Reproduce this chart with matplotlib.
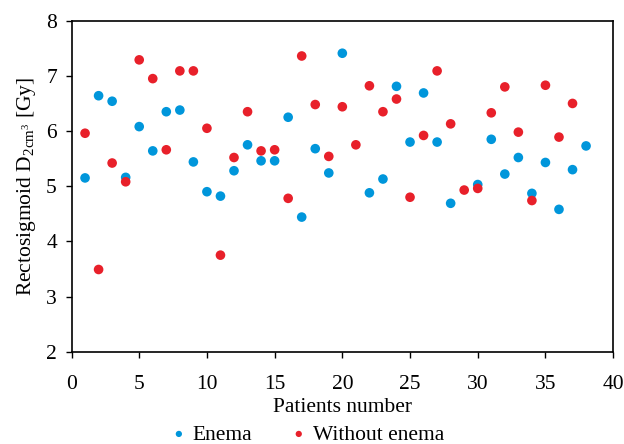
import matplotlib.pyplot as plt

plt.rcParams['font.family'] = ['Liberation Serif', 'DejaVu Serif']
plt.rcParams['mathtext.fontset'] = 'custom'
plt.rcParams['mathtext.rm'] = 'Liberation Serif'
plt.rcParams['mathtext.it'] = 'Liberation Serif:italic'

# Enema group (patient number, dose)
enema_x = list(range(1, 21)) + list(range(22, 29)) + list(range(30, 39))
enema_y = [5.15, 6.64, 6.54, 5.16, 6.08, 5.64, 6.35, 6.38, 5.44, 4.90,
           4.82, 5.28, 5.75, 5.46, 5.46, 6.25, 4.44, 5.68, 5.24, 7.41,
           4.88, 5.13, 6.81, 5.80, 6.69, 5.80, 4.69,
           5.03, 5.85, 5.22, 5.52, 4.87, 5.43, 4.58, 5.30, 5.73]

# Without enema group
without_x = list(range(1, 38))
without_y = [5.96, 3.49, 5.42, 5.08, 7.29, 6.95, 5.66, 7.09, 7.09, 6.05,
             3.75, 5.52, 6.35, 5.64, 5.66, 4.78, 7.36, 6.48, 5.54, 6.44,
             5.75, 6.82, 6.35, 6.58, 4.80, 5.92, 7.09, 6.13, 4.93, 4.96,
             6.33, 6.80, 5.98, 4.74, 6.83, 5.89, 6.50]

fig = plt.figure(figsize=(6.24, 4.44), dpi=100)
ax = fig.add_axes([0.1146, 0.2079, 0.868, 0.7455])

ax.scatter(enema_x, enema_y, s=48, color='#0096DB', edgecolors='none',
           label='Enema', zorder=3)
ax.scatter(without_x, without_y, s=48, color='#E8202A', edgecolors='none',
           label='Without enema', zorder=3)

ax.set_xlim(0, 40)
ax.set_ylim(2, 8)
ax.set_xticks(range(0, 41, 5))
ax.set_yticks(range(2, 9))
ax.tick_params(labelsize=15.5, direction='out', length=4.5, width=1)
ax.tick_params(axis='x', pad=12)
ax.tick_params(axis='y', pad=6)
for s in ax.spines.values():
    s.set_linewidth(1.2)

ax.set_xlabel('Patients number', fontsize=15.5, labelpad=3)
ax.set_ylabel(r'Rectosigmoid D$_{\mathrm{2cm}^{3}}$ [Gy]', fontsize=15.5, labelpad=6)

ax.legend(loc='upper center', bbox_to_anchor=(0.437, -0.22), ncol=2,
          frameon=False, fontsize=15.5, handlelength=0.6, handletextpad=0.35,
          columnspacing=1.85, markerscale=0.65, borderaxespad=0,
          borderpad=0)

fig.savefig('out.png', dpi=100)
